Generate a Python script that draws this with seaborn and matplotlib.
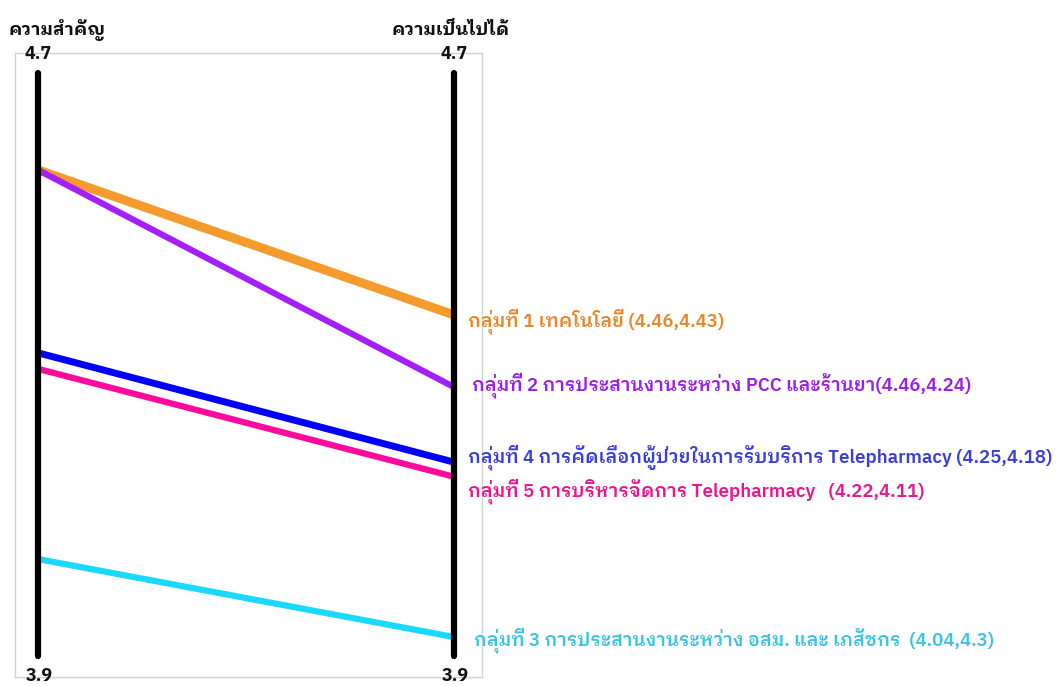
import matplotlib
matplotlib.use("Agg")
import matplotlib.pyplot as plt
import seaborn as sns
import pandas as pd

axes_names = ["ความสำคัญ", "ความเป็นไปได้"]
groups = ["กลุ่มที่ 1", "กลุ่มที่ 2", "กลุ่มที่ 4", "กลุ่มที่ 5", "กลุ่มที่ 3"]
importance = [4.567, 4.567, 4.316, 4.294, 4.033]
feasibility = [4.368, 4.269, 4.166, 4.146, 3.926]
labels = [
    "กลุ่มที่ 1 เทคโนโลยี (4.46,4.43)",
    "กลุ่มที่ 2 การประสานงานระหว่าง PCC และร้านยา(4.46,4.24)",
    "กลุ่มที่ 4 การคัดเลือกผู้ป่วยในการรับบริการ Telepharmacy (4.25,4.18)",
    "กลุ่มที่ 5 การบริหารจัดการ Telepharmacy   (4.22,4.11)",
    "กลุ่มที่ 3 การประสานงานระหว่าง อสม. และ เภสัชกร  (4.04,4.3)",
]
line_colors = ["#F59A2C", "#A41FFA", "#0000FA", "#FF0A9C", "#1AD8FF"]
label_colors = ["#E8862A", "#9B1FE6", "#3B3FD9", "#E8168F", "#3DC3E3"]
line_widths = [6.5, 4.5, 5.0, 4.5, 4.5]
axis_min, axis_max = 3.9, 4.7
tick_labels = ["3.9", "4.7"]

rows = []
for g, a, b in zip(groups, importance, feasibility):
    rows.append({"group": g, "x": 0, "value": a})
    rows.append({"group": g, "x": 1, "value": b})
df = pd.DataFrame(rows)

sns.set_theme(style="white")
FONT = ["IBM Plex Sans Thai Looped", "DejaVu Sans"]
plt.rcParams["font.family"] = FONT

W, H = 1058, 686
fig = plt.figure(figsize=(W / 100, H / 100), dpi=100)

# axes frame in pixels: x 15..482, y 53..677
x0p, x1p, y0p, y1p = 15, 482, 53, 677
ax = fig.add_axes([x0p / W, 1 - y1p / H, (x1p - x0p) / W, (y1p - y0p) / H])

# left axis at px 38, right at px 454 ; 4.7 at px 73, 3.9 at px 656
pxu = (454 - 38)
ax.set_xlim(-(38 - x0p) / pxu, 1 + (x1p - 454) / pxu)
pyu = (656 - 73) / (axis_max - axis_min)
ax.set_ylim(axis_min - (y1p - 656) / pyu, axis_max + (73 - y0p) / pyu)

for g, c, lw in zip(groups, line_colors, line_widths):
    sub = df[df["group"] == g]
    sns.lineplot(data=sub, x="x", y="value", color=c, linewidth=lw, ax=ax,
                 legend=False, solid_capstyle="butt")

ax.vlines([0, 1], axis_min, axis_max, colors="black", linewidth=4.5,
          capstyle="round", zorder=5)

ax.set_xticks([])
ax.set_yticks([])
ax.set_xlabel("")
ax.set_ylabel("")
for s in ax.spines.values():
    s.set_color("#D3D3D3")
    s.set_linewidth(1.0)

def fx(px):
    return px / W

def fy(py):
    return 1 - py / H

# axis titles
fig.text(fx(9), fy(30), axes_names[0], ha="left", va="center", fontsize=13,
         fontweight="bold", color="#111111")
fig.text(fx(451), fy(30), axes_names[1], ha="center", va="center", fontsize=13,
         fontweight="bold", color="#111111")

# tick labels on each axis
for xp in (38, 454):
    fig.text(fx(xp), fy(54), tick_labels[1], ha="center", va="center",
             fontsize=13, fontweight="bold", color="#111111", zorder=10)
    fig.text(fx(xp + 1), fy(676), tick_labels[0], ha="center", va="center",
             fontsize=13, fontweight="bold", color="#111111", zorder=10)

# series labels
label_pos = [(468, 321), (472, 385), (468, 457), (468, 491), (474, 640)]
for t, c, (xp, yp) in zip(labels, label_colors, label_pos):
    fig.text(fx(xp), fy(yp), t, ha="left", va="center", fontsize=13.4,
             fontweight="semibold", color=c)

fig.savefig("out.png", dpi=100)
